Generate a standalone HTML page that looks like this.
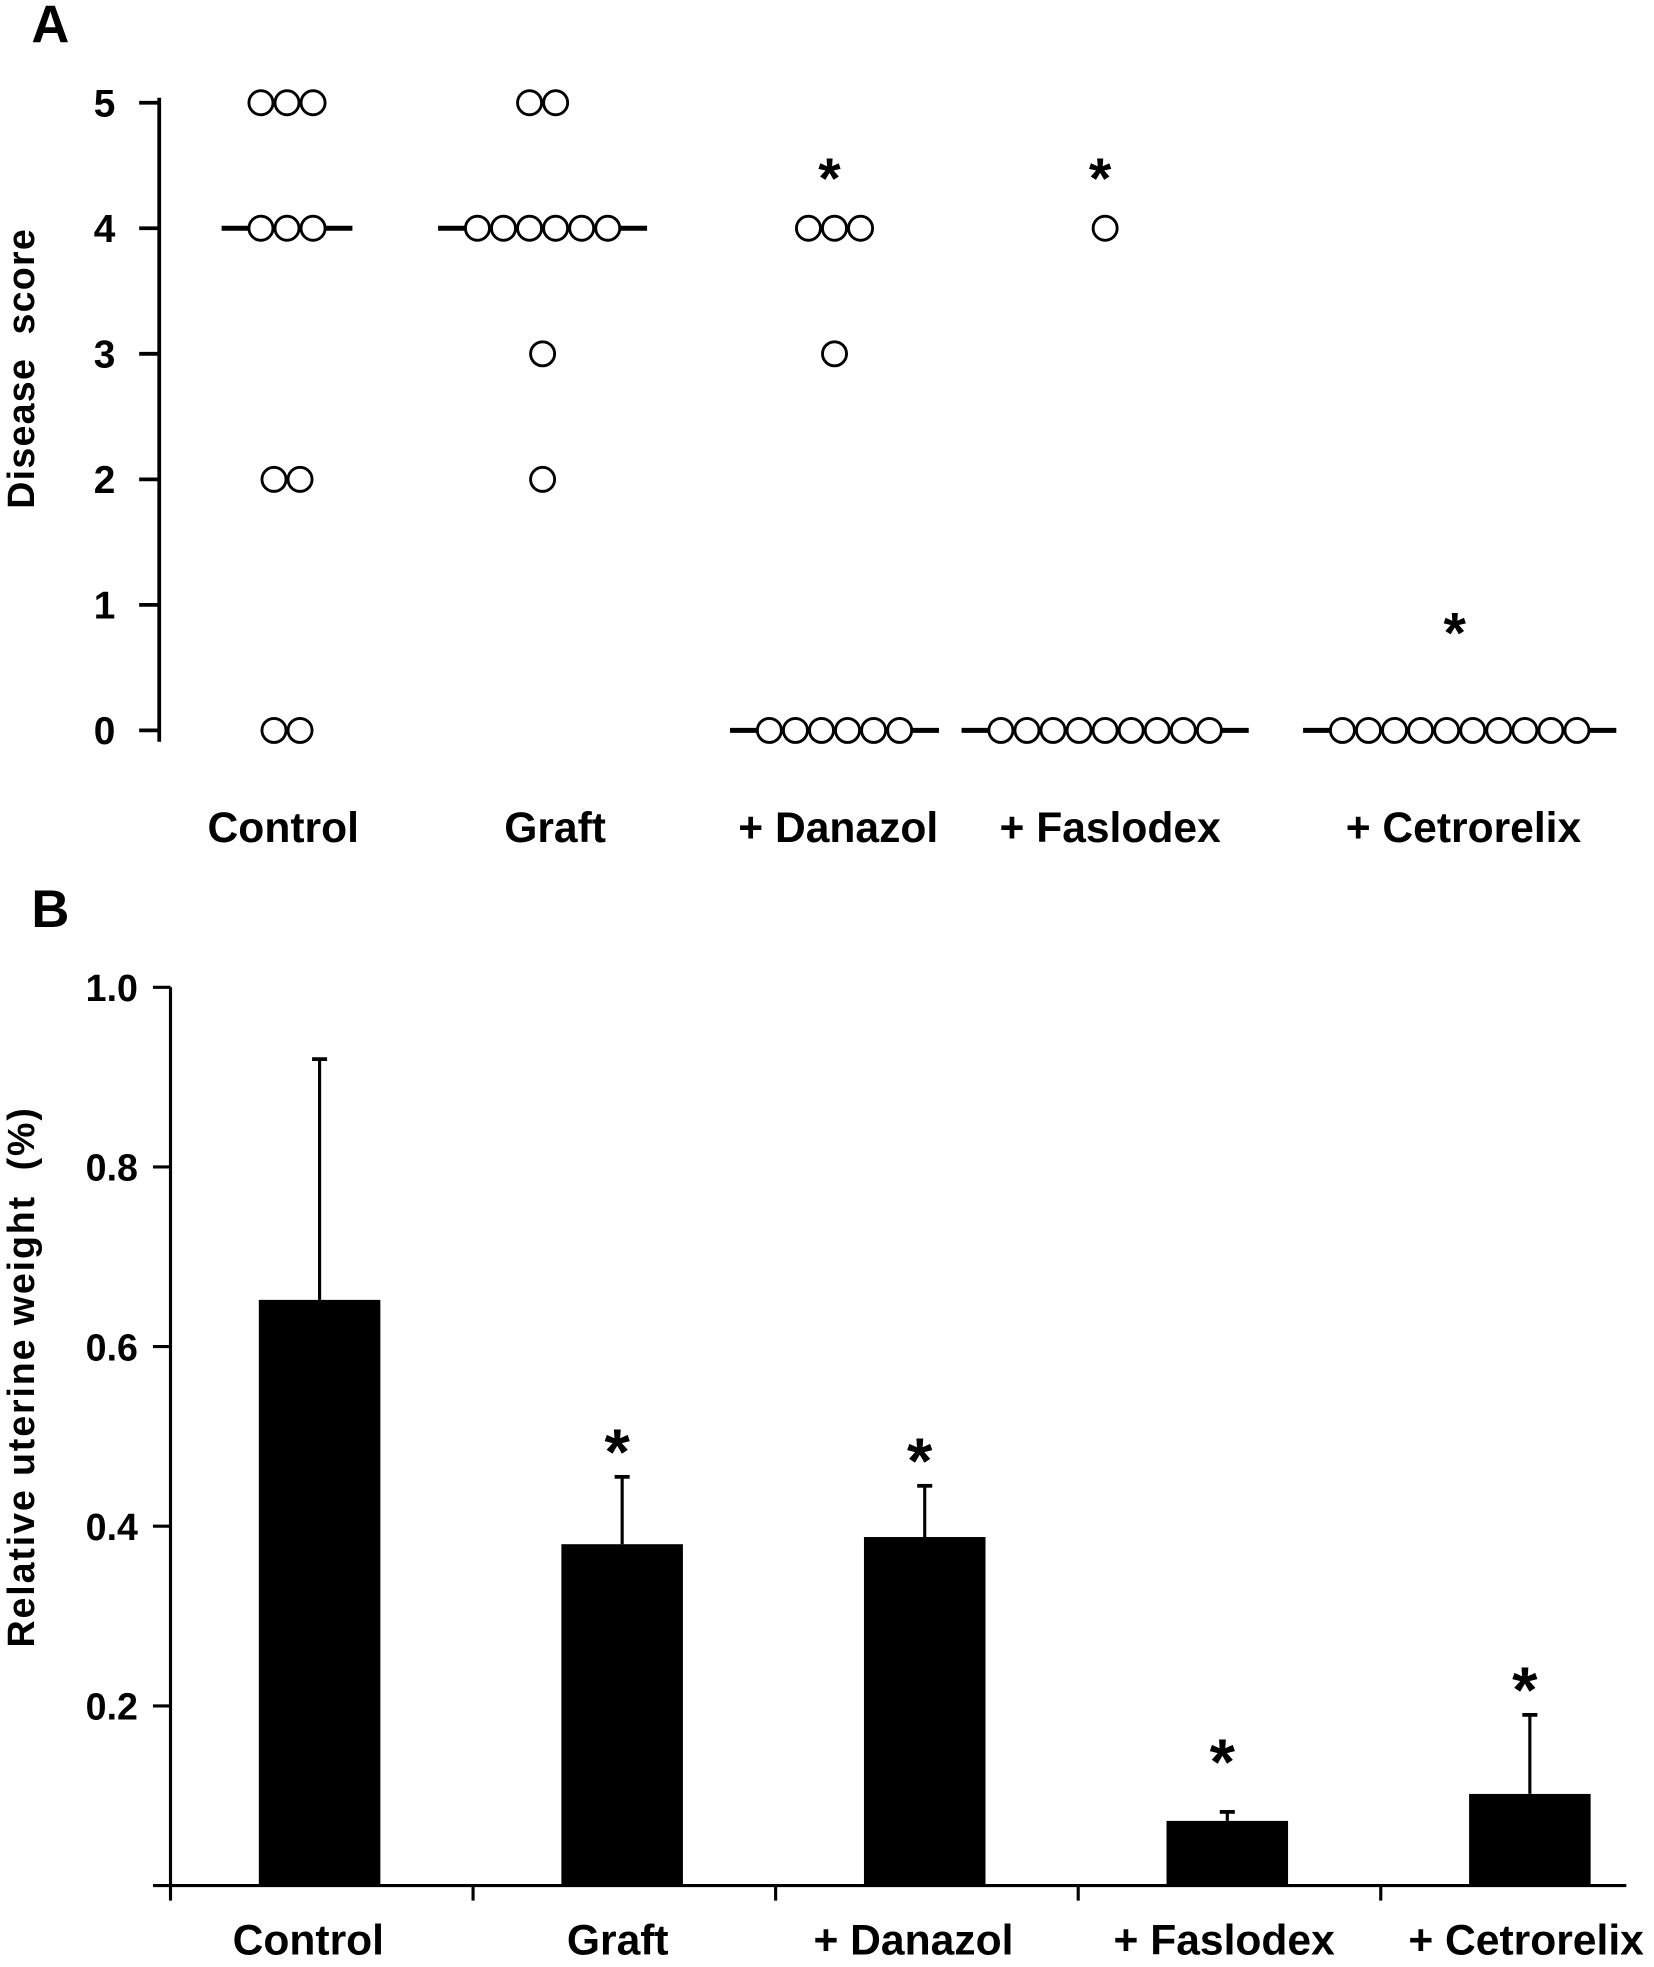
<!DOCTYPE html>
<html><head><meta charset="utf-8"><style>
html,body{margin:0;padding:0;background:#fff;}
svg{display:block;}
text{font-family:"Liberation Sans",Arial,sans-serif;font-weight:bold;fill:#000;}
</style></head>
<body>
<svg id="fig" width="1654" height="1967" viewBox="0 0 1320 1570">
<g id="panelA"></g>
<g id="panelB"></g>
</svg>
<script>
// ---- Panel A data ----
const groupsA = ["Control","Graft","+ Danazol","+ Faslodex","+ Cetrorelix"];
const scoresControl = [5,5,5,4,4,4,2,2,0,0];
const scoresGraft = [5,5,4,4,4,4,4,4,3,2];
const scoresDanazol = [4,4,4,3,0,0,0,0,0,0];
const scoresFaslodex = [4,0,0,0,0,0,0,0,0,0];
const scoresCetrorelix = [0,0,0,0,0,0,0,0,0,0];
const mediansA = [4,4,0,0,0];
const starsA = [false,false,true,true,true];
const ticksA = [0,1,2,3,4,5];
// ---- Panel B data ----
const groupsB = ["Control","Graft","+ Danazol","+ Faslodex","+ Cetrorelix"];
const meansB = [0.652,0.380,0.388,0.072,0.102];
const errTopB = [0.920,0.455,0.445,0.082,0.190];
const starsB = [false,true,true,true,true];
const ticksB = [0.2,0.4,0.6,0.8,1.0];
const tickLabelsB = ["0.2","0.4","0.6","0.8","1.0"];

const NS="http://www.w3.org/2000/svg";
function mk(tag,attrs,parent){const e=document.createElementNS(NS,tag);for(const k in attrs)e.setAttribute(k,attrs[k]);parent.appendChild(e);return e;}

// ===== Panel A =====
const A=document.getElementById('panelA');
const yA=v=>583-(583-82)*v/5;
const centersA=[229,433,666,882,1165];
const allScores=[scoresControl,scoresGraft,scoresDanazol,scoresFaslodex,scoresCetrorelix];
let t=mk('text',{x:25,y:34,'font-size':42},A);t.textContent='A';


let ax=mk('line',{x1:127,y1:78,x2:127,y2:592,stroke:'#000','stroke-width':3},A);


ticksA.forEach(v=>{
  const l=mk('line',{x1:111,y1:yA(v),x2:127,y2:yA(v),stroke:'#000','stroke-width':3},A);
  
  
  const tx=mk('text',{x:92,y:yA(v)+11,'font-size':31,'text-anchor':'end'},A);tx.textContent=v;
  
  
});
t=mk('text',{x:0,y:0,'font-size':30,'text-anchor':'middle','letter-spacing':1,transform:'translate(27,294) rotate(-90)'},A);t.textContent='Disease\u00a0\u00a0score';


const sp=20.8;
allScores.forEach((arr,gi)=>{
  const counts={};arr.forEach(v=>counts[v]=(counts[v]||0)+1);
  const n=counts[mediansA[gi]]||1;const w=n*sp+42;
  const ml=mk('line',{x1:centersA[gi]-w/2,y1:yA(mediansA[gi]),x2:centersA[gi]+w/2,y2:yA(mediansA[gi]),stroke:'#000','stroke-width':4},A);
  
  
  Object.keys(counts).forEach(k=>{
    const c=counts[k];const v=+k;
    for(let i=0;i<c;i++){
      const cx=centersA[gi]+(i-(c-1)/2)*sp;
      const ci=mk('circle',{cx:cx,cy:yA(v),r:9.6,fill:'#fff',stroke:'#000','stroke-width':2.3},A);
      
      
    }
  });
  if(starsA[gi]){
    const top=Math.max(...arr);
    const s=mk('text',{x:centersA[gi]-4,y:top>0?yA(top)-24:yA(0)-62,'font-size':46,'text-anchor':'middle'},A);s.textContent='*';
    
    
  }
  const lb=mk('text',{x:[226,443,669,886,1168][gi],y:672,'font-size':34,'text-anchor':'middle'},A);lb.textContent=groupsA[gi];
  
  
});

// ===== Panel B =====
const B=document.getElementById('panelB');
const y0=1505,y1=788;
const yB=v=>y0-(y0-y1)*v;
const xB=i=>255+i*241.5;
const bw=97;
t=mk('text',{x:25,y:740,'font-size':42},B);t.textContent='B';


ax=mk('line',{x1:136,y1:yB(1.0),x2:136,y2:y0,stroke:'#000','stroke-width':2.5},B);


ax=mk('line',{x1:122,y1:y0,x2:1298,y2:y0,stroke:'#000','stroke-width':2.5},B);


ticksB.forEach((v,i)=>{
  const l=mk('line',{x1:122,y1:yB(v),x2:136,y2:yB(v),stroke:'#000','stroke-width':2.5},B);
  
  
  const tx=mk('text',{x:110,y:yB(v)+11,'font-size':30,'text-anchor':'end'},B);tx.textContent=tickLabelsB[i];
  
  
});
for(let i=0;i<5;i++){
  const l=mk('line',{x1:136+i*241.5,y1:y0,x2:136+i*241.5,y2:y0+12,stroke:'#000','stroke-width':2.5},B);
  
  
}
t=mk('text',{x:0,y:0,'font-size':30,'text-anchor':'middle','letter-spacing':1.5,transform:'translate(27,1099) rotate(-90)'},B);t.textContent='Relative uterine weight\u00a0\u00a0(%)';


meansB.forEach((m,i)=>{
  const cx=xB(i);
  const e=mk('line',{x1:cx,y1:yB(m),x2:cx,y2:yB(errTopB[i]),stroke:'#000','stroke-width':2.5},B);
  
  
  const c=mk('line',{x1:cx-6,y1:yB(errTopB[i]),x2:cx+6,y2:yB(errTopB[i]),stroke:'#000','stroke-width':3},B);
  
  
  const r=mk('rect',{x:cx-bw/2,y:yB(m),width:bw,height:y0-yB(m),fill:'#000'},B);
  
  
  if(starsB[i]){
    const s=mk('text',{x:cx-4,y:yB(errTopB[i])+(i===3?-22:-2),'font-size':52,'text-anchor':'middle'},B);s.textContent='*';
    
    
  }
  const lb=mk('text',{x:[246,493,729,977,1218][i],y:1560,'font-size':34,'text-anchor':'middle'},B);lb.textContent=groupsB[i];
  
  
});
</script>
</body></html>
